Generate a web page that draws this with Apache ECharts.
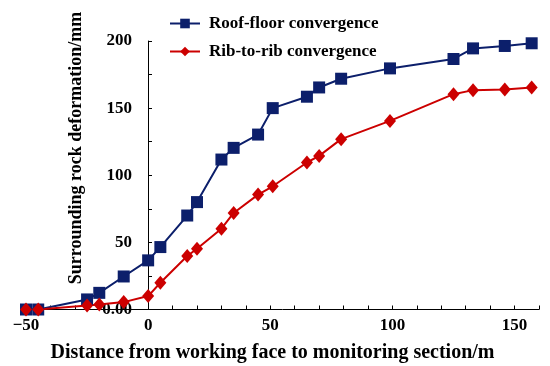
<!DOCTYPE html>
<html>
<head>
<meta charset="utf-8">
<script src="https://cdn.jsdelivr.net/npm/echarts@6/dist/echarts.min.js"></script>
<style>html,body{margin:0;padding:0;background:#fff;}#c{width:550px;height:366px;}</style>
</head>
<body>
<div id="c"></div>
<script>
const distances = [-50, -45, -25, -20, -10, 0, 5, 16, 20, 30, 35, 45, 51, 65, 70, 79, 99, 125, 133, 146, 157];
const roofFloor = [0, 0, 7.5, 12.4, 24.6, 36.6, 46.5, 70, 80, 111.7, 120.4, 130.3, 150, 158.5, 165.4, 171.9, 179.6, 186.6, 194.5, 196.3, 198.3];
const ribToRib = [0, 0, 3, 3.7, 5.5, 10, 19.9, 39.8, 45.3, 60.2, 71.9, 85.6, 91.8, 109.5, 114.4, 126.9, 140.5, 160.4, 163.4, 163.9, 165.4];
const seriesNames = ['Roof-floor convergence', 'Rib-to-rib convergence'];
const xTickLabels = [-50, 0, 50, 100, 150];
const yTickLabels = [0, 50, 100, 150, 200];
const xTitle = 'Distance from working face to monitoring section/m';
const yTitle = 'Surrounding rock deformation/mm';

const font = 'Liberation Serif';
const pair = (xs, ys) => xs.map((x, i) => [x, ys[i]]);
const chart = echarts.init(document.getElementById('c'));
chart.setOption({
  animation: false,
  grid: { left: 26, right: 11, top: 41, bottom: 56.5, containLabel: false, outerBoundsMode: 'none' },
  legend: {
    orient: 'vertical', left: 164, top: 10, itemGap: 11, itemWidth: 30, itemHeight: 12,
    textStyle: { fontFamily: font, fontWeight: 'bold', fontSize: 17, color: '#000', padding: [0, 0, 0, 4] },
    data: seriesNames
  },
  graphic: [{
    type: 'text', x: 76, y: 148, rotation: Math.PI / 2,
    style: { text: yTitle, fontFamily: font, fontWeight: 'bold', fontSize: 18, fill: '#000', align: 'center', verticalAlign: 'middle' }
  }],
  xAxis: {
    type: 'value', min: -50, max: 160, interval: 10,
    splitLine: { show: false },
    axisLine: { lineStyle: { color: '#000', width: 1 } },
    axisTick: { inside: true, length: 4, lineStyle: { color: '#000' } },
    axisLabel: {
      margin: 8, color: '#000', fontFamily: font, fontWeight: 'bold', fontSize: 17,
      formatter: v => xTickLabels.includes(v) ? (v < 0 ? '\u2212' + Math.abs(v) : String(v)) : ''
    },
    name: xTitle,
    nameLocation: 'middle', nameGap: 33,
    nameTextStyle: { fontFamily: font, fontWeight: 'bold', fontSize: 20, color: '#000', padding: [0, 20, 0, 0] }
  },
  yAxis: {
    type: 'value', min: 0, max: 200, interval: 25, offset: -122,
    splitLine: { show: false },
    axisLine: { onZero: false, lineStyle: { color: '#000', width: 1 } },
    axisTick: { inside: true, length: 4, lineStyle: { color: '#000' } },
    axisLabel: {
      margin: 16, color: '#000', fontFamily: font, fontWeight: 'bold', fontSize: 17,
      formatter: v => yTickLabels.includes(v) ? (v === 0 ? '0.00' : String(v)) : ''
    }
  },
  series: [
    {
      name: seriesNames[0], type: 'line', data: pair(distances, roofFloor),
      symbol: 'rect', symbolSize: 12,
      lineStyle: { color: '#0c1f6b', width: 2 },
      itemStyle: { color: '#0c1f6b' }
    },
    {
      name: seriesNames[1], type: 'line', data: pair(distances, ribToRib),
      symbol: 'diamond', symbolSize: [12, 14],
      lineStyle: { color: '#cc0000', width: 2 },
      itemStyle: { color: '#cc0000' }
    }
  ]
});
</script>
</body>
</html>
